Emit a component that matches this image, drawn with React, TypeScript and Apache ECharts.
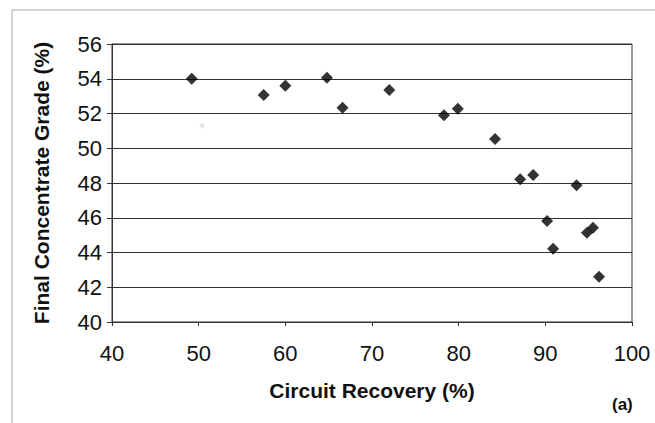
import React, { useEffect, useRef } from "react";
import * as echarts from "echarts";

const recovery = [49.2, 57.5, 60.0, 64.8, 66.6, 72.0, 78.3, 79.9, 84.2, 87.1, 88.6, 93.6, 90.2, 90.9, 94.8, 95.5, 96.2];
const grade = [54.0, 53.06, 53.6, 54.06, 52.33, 53.35, 51.9, 52.28, 50.53, 48.21, 48.46, 47.87, 45.81, 44.22, 45.14, 45.43, 42.6];
const faintRecovery = [50.4];
const faintGrade = [51.3];

const xTicks = [40, 50, 60, 70, 80, 90, 100];
const yTicks = [40, 42, 44, 46, 48, 50, 52, 54, 56];

export default function App() {
  const ref = useRef<HTMLDivElement>(null);
  useEffect(() => {
    document.body.style.margin = "0";
    if (!ref.current) return;
    const chart = echarts.init(ref.current, null, { renderer: "svg" });
    const font = "'Liberation Sans', Arial, sans-serif";
    chart.setOption({
      animation: false,
      backgroundColor: "#ffffff",
      grid: {
        left: 112,
        right: 23,
        top: 44,
        bottom: 101,
        show: true,
        borderColor: "#333",
        borderWidth: 1,
        backgroundColor: "transparent",
      },
      xAxis: {
        type: "value",
        min: xTicks[0],
        max: xTicks[xTicks.length - 1],
        interval: 10,
        name: "Circuit Recovery (%)",
        nameLocation: "middle",
        nameGap: 58,
        nameTextStyle: { fontFamily: font, fontSize: 21, fontWeight: "bold", color: "#111" },
        axisLine: { show: true, lineStyle: { color: "#333", width: 1 } },
        axisTick: { show: true, inside: false, length: 4, lineStyle: { color: "#333" } },
        axisLabel: { fontFamily: font, fontSize: 22, color: "#111", margin: 20 },
        splitLine: { show: false },
      },
      yAxis: {
        type: "value",
        min: yTicks[0],
        max: yTicks[yTicks.length - 1],
        interval: 2,
        name: "Final Concentrate Grade (%)",
        nameLocation: "middle",
        nameGap: 60,
        nameRotate: 90,
        nameTextStyle: { fontFamily: font, fontSize: 21, fontWeight: "bold", color: "#111" },
        axisLine: { show: true, lineStyle: { color: "#333", width: 1 } },
        axisTick: { show: true, inside: false, length: 5, lineStyle: { color: "#333" } },
        axisLabel: { fontFamily: font, fontSize: 22, color: "#111", margin: 10 },
        splitLine: { show: true, lineStyle: { color: "#333", width: 1 } },
      },
      graphic: [
        {
          type: "rect",
          shape: { x: 12, y: 10, width: 660, height: 430 },
          style: { fill: "none", stroke: "#aaa", lineWidth: 1 },
          silent: true,
        },
        {
          type: "text",
          x: 612,
          y: 396,
          style: { text: "(a)", fontFamily: font, fontSize: 17, fontWeight: "bold", fill: "#111" },
        },
      ],
      series: [
        {
          type: "scatter",
          symbol: "diamond",
          symbolSize: 12,
          itemStyle: { color: "#000" },
          data: recovery.map((r, i) => [r, grade[i]]),
        },
        {
          type: "scatter",
          symbol: "diamond",
          symbolSize: 6,
          itemStyle: { color: "#ddd" },
          data: faintRecovery.map((r, i) => [r, faintGrade[i]]),
        },
      ],
    });
    return () => chart.dispose();
  }, []);
  return <div ref={ref} style={{ width: 655, height: 423 }} />;
}
